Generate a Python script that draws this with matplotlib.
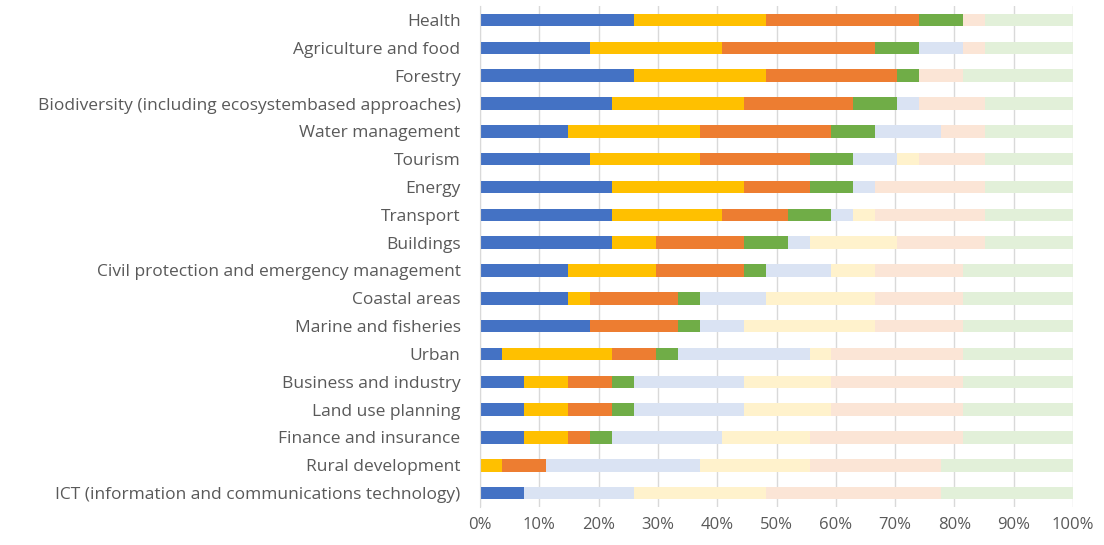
import matplotlib

matplotlib.use("Agg")
import matplotlib.pyplot as plt
import numpy as np

# Sectors, top to bottom as drawn
sectors = [
    "Health",
    "Agriculture and food",
    "Forestry",
    "Biodiversity (including ecosystembased approaches)",
    "Water management",
    "Tourism",
    "Energy",
    "Transport",
    "Buildings",
    "Civil protection and emergency management",
    "Coastal areas",
    "Marine and fisheries",
    "Urban",
    "Business and industry",
    "Land use planning",
    "Finance and insurance",
    "Rural development",
    "ICT (information and communications technology)",
]

# Response counts per sector (27 respondents), one list per response class
n_resp = 27
blue = [7, 5, 7, 6, 4, 5, 6, 6, 6, 4, 4, 5, 1, 2, 2, 2, 0, 2]
yellow = [6, 6, 6, 6, 6, 5, 6, 5, 2, 4, 1, 0, 5, 2, 2, 2, 1, 0]
orange = [7, 7, 6, 5, 6, 5, 3, 3, 4, 4, 4, 4, 2, 2, 2, 1, 2, 0]
green = [2, 2, 1, 2, 2, 2, 2, 2, 2, 1, 1, 1, 1, 1, 1, 1, 0, 0]
light_blue = [0, 2, 0, 1, 3, 2, 1, 1, 1, 3, 3, 2, 6, 5, 5, 5, 7, 5]
light_yellow = [0, 0, 0, 0, 0, 1, 0, 1, 4, 2, 5, 6, 1, 4, 4, 4, 5, 6]
light_orange = [1, 1, 2, 3, 2, 3, 5, 5, 4, 4, 4, 4, 6, 6, 6, 7, 6, 8]
light_green = [4, 4, 5, 4, 4, 4, 4, 4, 4, 5, 5, 5, 5, 5, 5, 5, 6, 6]

series = [blue, yellow, orange, green, light_blue, light_yellow, light_orange, light_green]
colors = ["#4472C4", "#FFC000", "#ED7D31", "#70AD47",
          "#DAE3F3", "#FFF2CC", "#FBE5D6", "#E2F0D9"]

plt.rcParams["font.family"] = ["Open Sans", "DejaVu Sans"]

fig = plt.figure(figsize=(11.04, 5.45), dpi=100)
ax = fig.add_axes([0.4348, 0.0697, 0.5372, 0.919])

y = np.arange(len(sectors))
left = np.zeros(len(sectors))
for vals, col in zip(series, colors):
    pct = np.array(vals) / n_resp * 100
    ax.barh(y, pct, left=left, height=0.45, color=col, linewidth=0, zorder=2)
    left += pct

ax.set_xlim(0, 100)
ax.set_ylim(len(sectors) - 0.5, -0.5)
ax.set_yticks(y)
ax.set_yticklabels(sectors)
ax.set_xticks(np.arange(0, 101, 10))
ax.set_xticklabels([f"{v}%" for v in range(0, 101, 10)])

ax.xaxis.grid(True, color="#D9D9D9", linewidth=1, zorder=0)
ax.set_axisbelow(True)
for side in ("top", "right", "bottom"):
    ax.spines[side].set_visible(False)
ax.spines["left"].set_color("#D9D9D9")
ax.tick_params(axis="both", length=0, colors="#595959")
ax.tick_params(axis="y", pad=14, labelsize=12.5)
ax.tick_params(axis="x", pad=7, labelsize=12)

fig.savefig("out.png", dpi=100, facecolor="white")
